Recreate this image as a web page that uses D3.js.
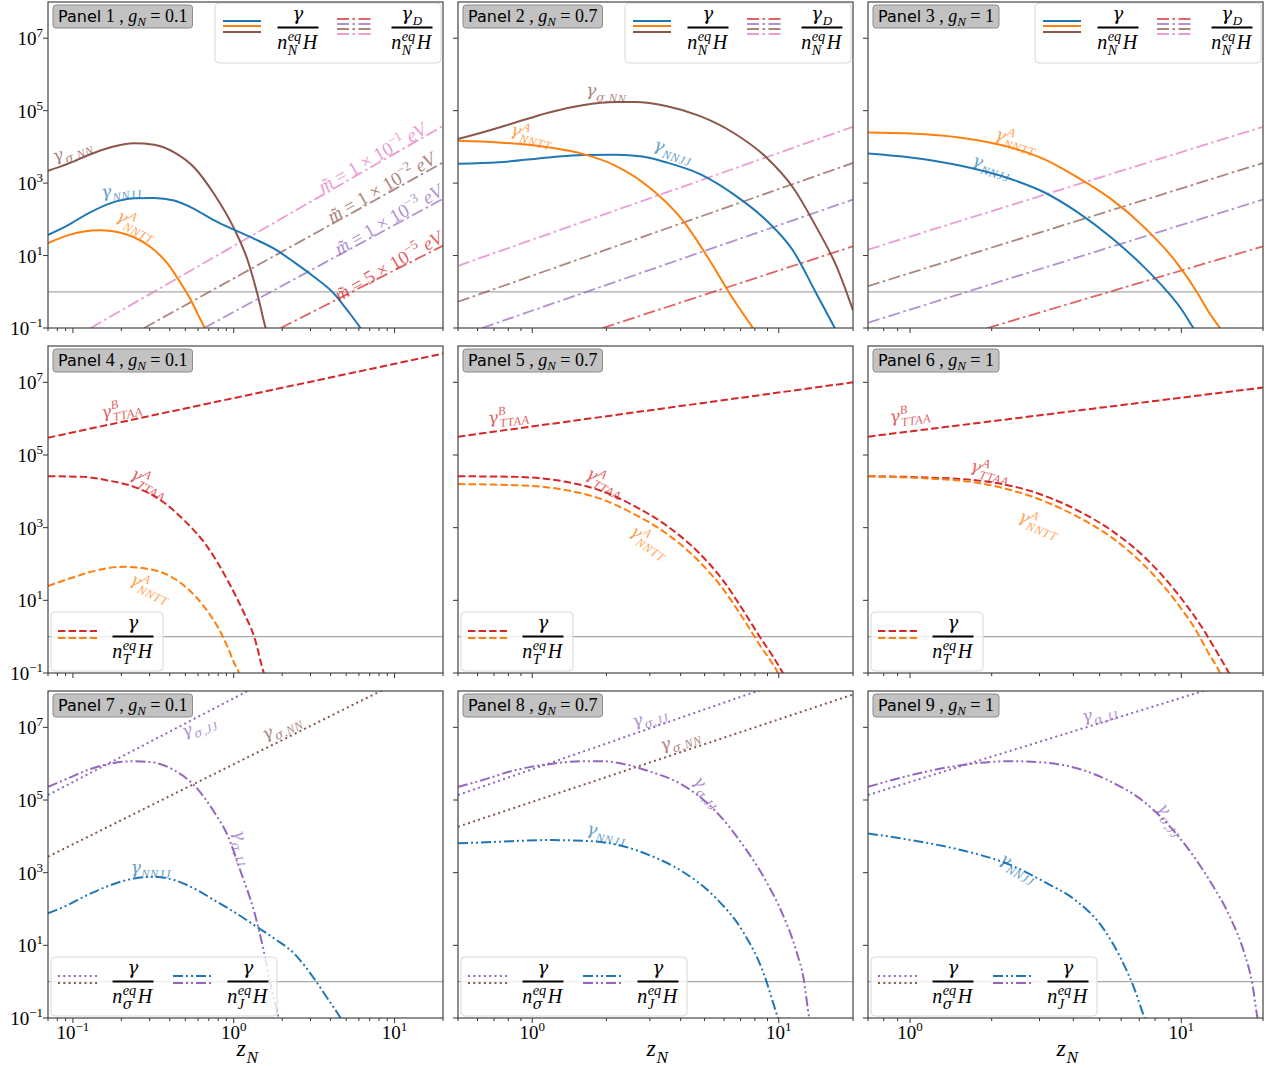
<!DOCTYPE html>
<html>
<head>
<meta charset="utf-8">
<title>Rates</title>
<script src="https://d3js.org/d3.v7.min.js"></script>
<style>
  body { margin: 0; background: #fff; }
</style>
</head>
<body>
<svg id="chart" width="1274" height="1068"></svg>
<script>
// ---------- data: [z_N, rate] ----------
// panel 1, g_N = 0.1
const p1_sigmaNN = [[0.07,2.2e3],[0.0927,3.4e3],[0.123,5.8e3],[0.172,9.8e3],[0.240,1.26e4],[0.320,1.15e4],[0.426,7.1e3],[0.566,2.75e3],[0.755,500],[1.0,58],[1.22,7.4],[1.40,0.89],[1.58,0.098],[1.65,0.05]]
const p1_NNJJ = [[0.07,37],[0.0927,68],[0.123,142],[0.172,280],[0.240,380],[0.320,390],[0.426,330],[0.566,195],[0.755,93],[1.0,52],[1.34,29],[1.78,15.5],[2.37,6.6],[3.15,2.6],[4.2,0.89],[5.08,0.31],[6.15,0.098],[6.6,0.06]]
const p1_NNTT = [[0.07,22],[0.0927,36],[0.117,46],[0.149,50],[0.189,45],[0.240,32],[0.305,17],[0.388,6.0],[0.469,1.7],[0.541,0.59],[0.595,0.25],[0.660,0.098],[0.69,0.06]]
const p1_D1 = [[0.129,0.1],[20,3.8e4]]
const p1_D2 = [[0.277,0.1],[20,3.7e3]]
const p1_D3 = [[0.654,0.1],[20,370]]
const p1_D5 = [[1.96,0.1],[20,18.8]]
// panel 2, g_N = 0.7
const p2_sigmaNN = [[0.5,1.65e4],[0.626,2.5e4],[0.855,4.7e4],[1.17,8.9e4],[1.60,1.42e5],[2.18,1.73e5],[2.63,1.73e5],[3.49,1.35e5],[4.77,7.2e4],[6.52,2.5e4],[8.91,5.1e3],[11.4,770],[14.2,61],[17.2,4.8],[20,0.31]]
const p2_NNTT = [[0.5,1.48e4],[0.732,1.33e4],[1.17,9.7e3],[1.60,6.4e3],[2.18,3.0e3],[2.98,770],[4.08,93],[5.24,7.4],[6.32,0.9],[7.16,0.25],[7.86,0.098],[8.2,0.06]]
const p2_NNJJ = [[0.5,3.4e3],[0.732,3.75e3],[1.17,5.1e3],[1.60,6.0e3],[2.18,6.1e3],[2.80,5.4e3],[3.49,3.75e3],[4.77,1.8e3],[6.52,506],[8.91,93],[11.4,14],[14.2,0.9],[16.9,0.098],[17.8,0.05]]
const p2_D1 = [[0.5,5.2],[20,3.6e4]]
const p2_D2 = [[0.5,0.53],[20,3.6e3]]
const p2_D3 = [[0.626,0.1],[20,352]]
const p2_D5 = [[1.93,0.1],[20,18]]
// panel 3, g_N = 1
const p3_NNTT = [[0.7,2.5e4],[1.006,2.35e4],[1.54,1.8e4],[2.35,9.7e3],[3.12,4.6e3],[4.14,1.45e3],[5.50,368],[7.29,61],[9.67,6.0],[11.5,0.9],[12.6,0.28],[13.9,0.098],[14.5,0.06]]
const p3_NNJJ = [[0.7,6.6e3],[1.006,5.1e3],[1.54,3.0e3],[2.35,1.3e3],[3.12,560],[4.14,158],[5.50,32],[7.29,4.8],[8.89,1.0],[9.95,0.35],[11.1,0.098],[11.6,0.06]]
const p3_D1 = [[0.7,14.6],[20,3.6e4]]
const p3_D2 = [[0.7,1.43],[20,3.6e3]]
const p3_D3 = [[0.7,0.14],[20,352]]
const p3_D5 = [[1.93,0.1],[20,18]]
// panel 4
const p4_TTAAB = [[0.07,3.0e5],[20,6.2e7]]
const p4_TTAAA = [[0.07,2.6e4],[0.117,2.5e4],[0.164,2.0e4],[0.240,1.33e4],[0.352,5.7e3],[0.491,1.6e3],[0.686,296],[0.914,36],[1.16,4.4],[1.34,1.0],[1.54,0.098],[1.6,0.06]]
const p4_NNTT = [[0.07,24.7],[0.102,44],[0.149,71],[0.208,84],[0.277,76],[0.388,50],[0.516,21],[0.654,6.7],[0.792,1.9],[0.914,0.53],[1.0,0.2],[1.08,0.098],[1.12,0.06]]
// panel 5
const p5_TTAAB = [[0.5,3.2e5],[20,1.0e7]]
const p5_TTAAA = [[0.5,2.6e4],[0.855,2.5e4],[1.37,1.83e4],[1.87,1.08e4],[2.55,4.2e3],[3.49,1.17e3],[4.77,195],[5.93,36],[7.16,5.4],[8.37,1.0],[9.48,0.28],[10.4,0.098],[10.8,0.06]]
const p5_NNTT = [[0.5,1.58e4],[0.855,1.48e4],[1.37,1.08e4],[1.87,6.4e3],[2.55,2.5e3],[3.49,700],[4.77,115],[5.93,21],[7.16,3.2],[8.37,0.59],[9.94,0.098],[10.3,0.06]]
// panel 6
const p6_TTAAB = [[0.7,3.2e5],[20,7.2e6]]
const p6_TTAAA = [[0.7,2.6e4],[1.16,2.4e4],[1.77,2.0e4],[2.71,1.08e4],[4.14,3.0e3],[5.50,860],[7.29,158],[9.67,15.5],[12.1,1.5],[13.6,0.35],[15.0,0.098],[15.5,0.06]]
const p6_NNTT = [[0.7,2.6e4],[1.16,2.26e4],[1.77,1.72e4],[2.71,7.9e3],[4.14,2.0e3],[5.50,560],[7.29,93],[9.67,8.2],[11.5,1.23],[12.6,0.35],[13.8,0.11],[14.3,0.06]]
// panel 7
const p7_sigJJdot = [[0.07,1.37e5],[1.245,1.05e8]]
const p7_sigNNdot = [[0.07,2.75e3],[8.38,1.05e8]]
const p7_sigJJ = [[0.07,2.3e5],[0.0927,3.9e5],[0.123,6.65e5],[0.172,1.01e6],[0.240,1.17e6],[0.320,1.07e6],[0.426,6.65e5],[0.566,2.57e5],[0.755,4.7e4],[0.914,1.08e4],[1.105,1.06e3],[1.34,84],[1.54,6.7],[1.70,0.81],[1.91,0.098],[2.0,0.05]]
const p7_NNJJ = [[0.07,76],[0.0927,128],[0.123,242],[0.172,456],[0.240,695],[0.320,773],[0.426,625],[0.566,369],[0.755,176],[1.0,84],[1.34,36],[1.78,15.6],[2.37,6.0],[3.15,1.24],[3.82,0.35],[4.62,0.098],[4.9,0.06]]
// panel 8
const p8_sigJJdot = [[0.5,1.37e5],[8.37,1.05e8]]
const p8_sigNNdot = [[0.5,1.84e4],[20,8.0e7]]
const p8_sigJJ = [[0.5,2.3e5],[0.626,3.5e5],[0.855,6.65e5],[1.17,9.7e5],[1.60,1.17e6],[1.93,1.17e6],[2.40,9.5e5],[2.98,6.2e5],[4.08,2.57e5],[5.58,4.7e4],[7.16,5.7e3],[8.91,560],[10.4,68],[11.8,6.7],[12.6,1.24],[13.3,0.098],[13.6,0.05]]
const p8_NNJJ = [[0.5,6.4e3],[0.732,7.1e3],[1.17,7.9e3],[1.70,7.4e3],[2.18,6.0e3],[2.98,3.05e3],[4.08,1.06e3],[5.58,195],[7.16,23.7],[8.63,1.9],[9.94,0.098],[10.3,0.05]]
// panel 9
const p9_sigJJdot = [[0.7,1.37e5],[12.3,1.05e8]]
const p9_sigJJ = [[0.7,2.3e5],[1.006,4.8e5],[1.54,9.1e5],[2.35,1.17e6],[3.12,1.07e6],[4.14,7.4e5],[5.50,3.2e5],[7.29,8.9e4],[9.67,1.08e4],[12.8,560],[15.2,55],[17.0,6.7],[18.3,0.81],[19.1,0.098],[19.5,0.05]]
const p9_NNJJ = [[0.7,1.2e4],[1.006,7.9e3],[1.54,4.2e3],[2.35,1.62e3],[3.12,560],[4.14,158],[5.05,36],[5.98,4.4],[6.70,0.66],[7.29,0.11],[7.6,0.05]]

const gValues = ["0.1", "0.7", "1"]
const zDomains = [[0.07, 20], [0.5, 20], [0.7, 20]]
const yDomain = [0.1, 1e8]
const yTicks = [1e-1, 1e1, 1e3, 1e5, 1e7]
const yTickExp = ["−1", "1", "3", "5", "7"]

// ---------- layout / styling ----------
const colBox = [[48, 443], [458, 853], [868, 1263]]
const rowBox = [[2, 328], [346, 673], [691, 1018]]
const SERIF = "Liberation Serif, serif"
const GREEK = "DejaVu Serif, serif"
const SANS = "DejaVu Sans, sans-serif"
const C = {blue: "#1f77b4", orange: "#ff7f0e", red: "#d62728", purple: "#9467bd", brown: "#8c564b", pink: "#e377c2"}
const ST = {
  solid: {dash: null, w: 2, op: 1},
  dashed: {dash: "7.4,3.2", w: 2, op: 1},
  dashdot: {dash: "12,3.5,2.5,3.5", w: 1.8, op: 0.72},
  dotted: {dash: "2,3.3", w: 2, op: 1},
  dashdotdot: {dash: "10,3,2,3,2,3", w: 2, op: 1}
}

const panels = [
  {row: 0, col: 0, curves: [[p1_D1,"pink","dashdot"],[p1_D2,"brown","dashdot"],[p1_D3,"purple","dashdot"],[p1_D5,"red","dashdot"],
      [p1_sigmaNN,"brown","solid"],[p1_NNJJ,"blue","solid"],[p1_NNTT,"orange","solid"]],
   labels: [{z:0.1,y:7.4e3,rot:-20,c:"brown",sub:"σ,NN"},{z:0.2,y:590,rot:-8,c:"blue",sub:"NNJJ"},{z:0.25,y:68,rot:28,c:"orange",sup:"A",sub:"NNTT"},
      {z:7.3,y:5.7e3,rot:-30,c:"pink",m:"1",e:"−1"},{z:8.3,y:860,rot:-30,c:"brown",m:"1",e:"−2"},{z:9.2,y:112,rot:-30,c:"purple",m:"1",e:"−3"},{z:9.2,y:5.8,rot:-30,c:"red",m:"5",e:"−5"}]},
  {row: 0, col: 1, curves: [[p2_D1,"pink","dashdot"],[p2_D2,"brown","dashdot"],[p2_D3,"purple","dashdot"],[p2_D5,"red","dashdot"],
      [p2_sigmaNN,"brown","solid"],[p2_NNJJ,"blue","solid"],[p2_NNTT,"orange","solid"]],
   labels: [{z:2.0,y:3.1e5,rot:4,c:"brown",sub:"σ,NN"},{z:1.0,y:2.1e4,rot:15,c:"orange",sup:"A",sub:"NNTT"},{z:3.73,y:7.3e3,rot:18,c:"blue",sub:"NNJJ"}]},
  {row: 0, col: 2, curves: [[p3_D1,"pink","dashdot"],[p3_D2,"brown","dashdot"],[p3_D3,"purple","dashdot"],[p3_D5,"red","dashdot"],
      [p3_NNJJ,"blue","solid"],[p3_NNTT,"orange","solid"]],
   labels: [{z:2.47,y:1.48e4,rot:18,c:"orange",sup:"A",sub:"NNTT"},{z:2.0,y:2.7e3,rot:18,c:"blue",sub:"NNJJ"}]},
  {row: 1, col: 0, curves: [[p4_TTAAB,"red","dashed"],[p4_TTAAA,"red","dashed"],[p4_NNTT,"orange","dashed"]],
   labels: [{z:0.2,y:1.8e6,rot:-12,c:"red",sup:"B",sub:"TTAA"},{z:0.3,y:1.7e4,rot:30,c:"red",sup:"A",sub:"TTAA"},{z:0.305,y:22,rot:25,c:"orange",sup:"A",sub:"NNTT"}]},
  {row: 1, col: 1, curves: [[p5_TTAAB,"red","dashed"],[p5_TTAAA,"red","dashed"],[p5_NNTT,"orange","dashed"]],
   labels: [{z:0.8,y:1.17e6,rot:-8,c:"red",sup:"B",sub:"TTAA"},{z:1.98,y:1.8e4,rot:28,c:"red",sup:"A",sub:"TTAA"},{z:3.0,y:400,rot:35,c:"orange",sup:"A",sub:"NNTT"}]},
  {row: 1, col: 2, curves: [[p6_TTAAB,"red","dashed"],[p6_TTAAA,"red","dashed"],[p6_NNTT,"orange","dashed"]],
   labels: [{z:1.0,y:1.26e6,rot:-8,c:"red",sup:"B",sub:"TTAA"},{z:1.98,y:3.6e4,rot:15,c:"red",sup:"A",sub:"TTAA"},{z:3.0,y:1.26e3,rot:22,c:"orange",sup:"A",sub:"NNTT"}]},
  {row: 2, col: 0, curves: [[p7_sigJJdot,"purple","dotted"],[p7_sigNNdot,"brown","dotted"],[p7_sigJJ,"purple","dashdotdot"],[p7_NNJJ,"blue","dashdotdot"]],
   labels: [{z:0.61,y:1.0e7,rot:-22,c:"purple",sub:"σ,JJ"},{z:2.0,y:9.6e6,rot:-25,c:"brown",sub:"σ,NN"},{z:1.12,y:4.8e3,rot:75,c:"purple",sub:"σ,JJ"},{z:0.305,y:1.26e3,rot:0,c:"blue",sub:"NNJJ"}]},
  {row: 2, col: 1, curves: [[p8_sigJJdot,"purple","dotted"],[p8_sigNNdot,"brown","dotted"],[p8_sigJJ,"purple","dashdotdot"],[p8_NNJJ,"blue","dashdotdot"]],
   labels: [{z:3.0,y:1.8e7,rot:-18,c:"purple",sub:"σ,JJ"},{z:4.0,y:4.2e6,rot:-18,c:"brown",sub:"σ,NN"},{z:5.1,y:1.6e5,rot:50,c:"purple",sub:"σ,JJ"},{z:2.0,y:1.15e4,rot:12,c:"blue",sub:"NNJJ"}]},
  {row: 2, col: 2, curves: [[p9_sigJJdot,"purple","dotted"],[p9_sigJJ,"purple","dashdotdot"],[p9_NNJJ,"blue","dashdotdot"]],
   labels: [{z:5.0,y:2.3e7,rot:-15,c:"purple",sub:"σ,JJ"},{z:9.1,y:2.8e4,rot:55,c:"purple",sub:"σ,JJ"},{z:2.5,y:1.3e3,rot:30,c:"blue",sub:"NNJJ"}]}
]

const svg = d3.select("#chart")

// write a string into a text element, greek letters in a font that draws them well
function fillText(t, str) {
  str.split(/([γσ])/).filter(s => s.length).forEach(s => {
    const sp = t.append("tspan").text(s)
    if (/[γσ]/.test(s)) sp.attr("font-family", GREEK)
  })
}

// base + stacked sup/sub, italic; returns end x
function stacked(g, x, base, sup, sub, size, color) {
  const t = g.append("text").attr("x", x).attr("y", 0)
    .attr("font-family", SERIF).attr("font-size", size).attr("fill", color).attr("font-style", "italic")
  fillText(t, base)
  const w = t.node().getComputedTextLength()
  let w2 = 0
  const small = size * 0.72
  if (sup) {
    const s = g.append("text").attr("x", x + w + 0.5).attr("y", -size * 0.42)
      .attr("font-family", SERIF).attr("font-style", "italic").attr("font-size", small).attr("fill", color)
    fillText(s, sup)
    w2 = Math.max(w2, s.node().getComputedTextLength())
  }
  if (sub) {
    const s = g.append("text").attr("x", x + w + 0.5).attr("y", size * 0.3)
      .attr("font-family", SERIF).attr("font-style", "italic").attr("font-size", small).attr("fill", color)
      .attr("letter-spacing", 0.6)
    fillText(s, sub)
    w2 = Math.max(w2, s.node().getComputedTextLength())
  }
  return x + w + w2 + 1
}

function centerGroup(inner) {
  const bb = inner.node().getBBox()
  inner.attr("transform", `translate(${-bb.x - bb.width / 2},${-bb.y - bb.height / 2})`)
}

// fraction  num / (n^{eq}_{sub} H)
function fraction(g, cx, top, numSub, denSub) {
  const ni = g.append("g")
  stacked(ni, 0, "γ", null, numSub, 18, "#000")
  const nb = ni.node().getBBox()
  ni.attr("transform", `translate(${cx - nb.width / 2 - nb.x},${top + 17})`)
  g.append("line").attr("x1", cx - 20.5).attr("x2", cx + 20.5).attr("y1", top + 24.5).attr("y2", top + 24.5)
    .attr("stroke", "#000").attr("stroke-width", 2)
  const den = g.append("g")
  const end = stacked(den, 0, "n", "eq", denSub, 20, "#000")
  den.append("text").attr("x", end + 1).attr("y", 0).attr("font-family", SERIF).attr("font-style", "italic")
    .attr("font-size", 20).text("H")
  const db = den.node().getBBox()
  den.attr("transform", `translate(${cx - db.width / 2 - db.x},${top + 46})`)
}

function sample(g, x1, x2, y, color, style) {
  const s = ST[style]
  g.append("line").attr("x1", x1).attr("x2", x2).attr("y1", y).attr("y2", y)
    .attr("stroke", C[color]).attr("stroke-width", s.w).attr("stroke-opacity", s.op)
    .attr("stroke-dasharray", s.dash)
}

function legendBox(g, x, y, w, h) {
  g.append("rect").attr("x", x).attr("y", y).attr("width", w).attr("height", h).attr("rx", 4)
    .attr("fill", "#fff").attr("fill-opacity", 0.8).attr("stroke", "#d8d8d8")
}

panels.forEach((p, i) => {
  const [x0, x1] = colBox[p.col], [y0, y1] = rowBox[p.row]
  const xs = d3.scaleLog().domain(zDomains[p.col]).range([x0, x1])
  const ys = d3.scaleLog().domain(yDomain).range([y1, y0])
  const g = svg.append("g")

  svg.append("clipPath").attr("id", "clip" + i).append("rect")
    .attr("x", x0).attr("y", y0).attr("width", x1 - x0).attr("height", y1 - y0)
  const plot = g.append("g").attr("clip-path", `url(#clip${i})`)

  // reference line at 1
  plot.append("line").attr("x1", x0).attr("x2", x1).attr("y1", ys(1)).attr("y2", ys(1))
    .attr("stroke", "#a8a8a8").attr("stroke-width", 1.2)

  const line = d3.line().x(d => xs(d[0])).y(d => ys(d[1])).curve(d3.curveMonotoneX)
  p.curves.forEach(([d, c, s]) => {
    plot.append("path").attr("d", line(d)).attr("fill", "none")
      .attr("stroke", C[c]).attr("stroke-width", ST[s].w).attr("stroke-opacity", ST[s].op)
      .attr("stroke-dasharray", ST[s].dash)
  })

  // curve labels
  p.labels.forEach(l => {
    const lg = g.append("g").attr("transform", `translate(${xs(l.z)},${ys(l.y)}) rotate(${l.rot})`)
      .attr("opacity", 0.72)
    const inner = lg.append("g")
    if (l.m) {
      const t = inner.append("text").attr("font-family", SERIF).attr("font-size", 19).attr("fill", C[l.c])
      t.append("tspan").attr("font-style", "italic").text("m\u0303")
      t.append("tspan").text(" = " + l.m + " × 10")
      t.append("tspan").attr("font-size", 13).attr("dy", -8).text(l.e)
      t.append("tspan").attr("dy", 8).attr("font-style", "italic").text(" eV")
    } else {
      stacked(inner, 0, "γ", l.sup, l.sub, 17, C[l.c])
    }
    centerGroup(inner)
  })

  // legend
  const lg = g.append("g")
  if (p.row === 0) {
    const bx = x1 - 228, by = y0 + 1
    legendBox(lg, bx, by, 226, 60)
    ;["blue", "orange", "brown"].forEach((c, k) => sample(lg, bx + 8, bx + 46, by + [18, 23, 29][k], c, "solid"))
    fraction(lg, bx + 83, by, null, "N")
    ;["red", "purple", "brown", "pink"].forEach((c, k) => sample(lg, bx + 122, bx + 158, by + 16 + 5 * k, c, "dashdot"))
    fraction(lg, bx + 197, by, "D", "N")
  } else if (p.row === 1) {
    const bx = x0 + 3, by = y1 - 61
    legendBox(lg, bx, by, 112, 59)
    sample(lg, bx + 7, bx + 46, by + 19, "red", "dashed")
    sample(lg, bx + 7, bx + 46, by + 26, "orange", "dashed")
    fraction(lg, bx + 82, by, null, "T")
  } else {
    const bx = x0 + 3, by = y1 - 61
    legendBox(lg, bx, by, 226, 59)
    sample(lg, bx + 7, bx + 46, by + 19, "purple", "dotted")
    sample(lg, bx + 7, bx + 46, by + 26, "brown", "dotted")
    fraction(lg, bx + 82, by, null, "σ")
    sample(lg, bx + 122, bx + 161, by + 19, "blue", "dashdotdot")
    sample(lg, bx + 122, bx + 161, by + 26, "purple", "dashdotdot")
    fraction(lg, bx + 197, by, null, "J")
  }

  // panel tag
  const tag = g.append("g")
  const tt = tag.append("text").attr("x", x0 + 10).attr("y", y0 + 20).attr("font-size", 18).attr("font-family", SERIF)
  tt.append("tspan").attr("font-family", SANS).attr("font-size", 16).text("Panel")
  tt.append("tspan").text(" " + (i + 1) + " , ")
  tt.append("tspan").attr("font-style", "italic").text("g")
  tt.append("tspan").attr("font-style", "italic").attr("font-size", 13).attr("dy", 4).text("N")
  tt.append("tspan").attr("dy", -4).text(" = " + gValues[p.col])
  const tb = tt.node().getBBox()
  tag.insert("rect", "text").attr("x", x0 + 5).attr("y", y0 + 3).attr("width", tb.width + 10).attr("height", 23)
    .attr("rx", 3).attr("fill", "#c2c2c2").attr("stroke", "#8c8c8c").attr("stroke-width", 1)

  // ticks
  const [zl, zh] = zDomains[p.col]
  const ax = g.append("g").attr("stroke", "#333").attr("stroke-width", 1)
  for (let dec = -2; dec <= 1; dec++) {
    for (let m = 1; m <= 9; m++) {
      const v = m * Math.pow(10, dec)
      if (v < zl || v > zh) continue
      const len = m === 1 ? 5 : 3
      ax.append("line").attr("x1", xs(v)).attr("x2", xs(v)).attr("y1", y1).attr("y2", y1 + len)
      if (m === 1 && p.row === 2) {
        const t = g.append("text").attr("x", xs(v)).attr("y", y1 + 21).attr("text-anchor", "middle")
          .attr("font-family", SERIF).attr("font-size", 19)
        t.append("tspan").text("10")
        t.append("tspan").attr("font-size", 13).attr("dy", -8).text(dec < 0 ? "−" + (-dec) : String(dec))
      }
    }
  }
  yTicks.forEach((v, k) => {
    ax.append("line").attr("x1", x0 - 5).attr("x2", x0).attr("y1", ys(v)).attr("y2", ys(v))
    if (p.col === 0) {
      const t = g.append("text").attr("x", x0 - 5).attr("y", ys(v) + 7).attr("text-anchor", "end")
        .attr("font-family", SERIF).attr("font-size", 19)
      t.append("tspan").text("10")
      t.append("tspan").attr("font-size", 13).attr("dy", -8).text(yTickExp[k])
    }
  })

  // frame
  g.append("rect").attr("x", x0).attr("y", y0).attr("width", x1 - x0).attr("height", y1 - y0)
    .attr("fill", "none").attr("stroke", "#444").attr("stroke-width", 1.2)

  if (p.row === 2) {
    const zi = g.append("g")
    stacked(zi, 0, "z", null, "N", 24, "#000")
    const zb = zi.node().getBBox()
    zi.attr("transform", `translate(${(x0 + x1) / 2 + 2 - zb.width / 2 - zb.x},1056)`)
  }
})
</script>
</body>
</html>
